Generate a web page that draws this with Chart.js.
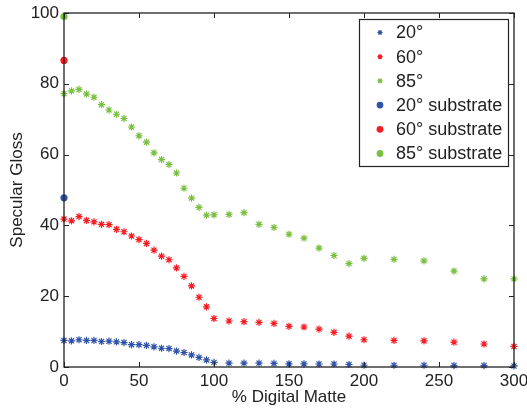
<!DOCTYPE html>
<html>
<head>
<meta charset="utf-8">
<script src="https://cdn.jsdelivr.net/npm/chart.js@4/dist/chart.umd.min.js"></script>
<style>
html,body{margin:0;padding:0;background:#fff;}
#wrap{width:527px;height:409px;position:relative;}
</style>
</head>
<body>
<div id="wrap"><canvas id="c" width="527" height="409"></canvas></div>
<script>
// % Digital Matte (x values)
const matte = [0,5,10,15,20,25,30,35,40,45,50,55,60,65,70,75,80,85,90,95,100,
               110,120,130,140,150,160,170,180,190,200,
               220,240,260,280,300];
const gloss20 = [7.5,7.4,7.7,7.5,7.5,7.2,7.3,7.1,6.9,6.3,6.3,6.1,5.7,5.3,5.2,4.5,4.1,3.4,2.7,2.0,1.3,
                 1.1,1.1,1.1,1.0,0.9,0.9,0.85,0.85,0.7,0.5,
                 0.5,0.5,0.4,0.4,0.3];
const gloss60 = [41.8,41.3,42.5,41.4,41.0,40.3,40.2,38.9,38.2,37.0,36.0,34.9,33.0,31.3,30.3,28.0,25.6,22.9,19.7,17.0,13.7,
                 13.0,12.8,12.6,12.3,11.5,11.3,10.7,9.8,8.7,7.7,
                 7.5,7.4,7.0,6.5,5.8];
const gloss85 = [77.2,78.0,78.4,77.1,76.2,74.1,72.6,71.4,70.2,67.8,65.3,63.5,60.5,58.6,57.2,54.8,50.5,47.7,45.1,42.9,43.0,
                 43.1,43.6,40.3,39.4,37.5,36.4,33.6,31.5,29.2,30.7,
                 30.4,30.0,27.1,24.9,24.9];
const substrateX = [0];
const substrate20 = [47.8];
const substrate60 = [86.6];
const substrate85 = [99.0];
const seriesLabels = ['20°','60°','85°','20° substrate','60° substrate','85° substrate'];
const xTicks = [0,50,100,150,200,250,300];
const yTicks = [0,20,40,60,80,100];
const xTitle = '% Digital Matte';
const yTitle = 'Specular Gloss';

const BLUE = 'rgb(48,82,168)', RED = 'rgb(245,28,36)', GREEN = 'rgb(122,192,64)';
const pts = (xs, ys) => xs.map((x,i)=>({x:x, y:ys[i]}));
const FONT = "'Liberation Sans', Arial, sans-serif";
const TXT = '#222';

function starSet(label, data, color){
  return {label, data, pointStyle:'star', pointRadius:3.6, pointBorderWidth:1.2,
    borderColor:color, backgroundColor:color, showLine:false, clip:false};
}
function dotSet(label, data, color){
  return {label, data, pointStyle:'circle', pointRadius:3.6, pointBorderWidth:0,
    borderColor:color, backgroundColor:color, showLine:false, clip:false};
}

const boxPlugin = {
  id:'boxPlugin',
  afterDraw(chart){
    const ctx = chart.ctx, a = chart.chartArea;
    const xs = chart.scales.x, ys = chart.scales.y;
    ctx.save();
    ctx.strokeStyle = '#222'; ctx.lineWidth = 1.3;
    ctx.strokeRect(a.left, a.top, a.right-a.left, a.bottom-a.top);
    const L = 5;
    ctx.beginPath();
    xs.ticks.forEach(t=>{
      const px = Math.round(xs.getPixelForValue(t.value))+0.5;
      ctx.moveTo(px, a.bottom); ctx.lineTo(px, a.bottom-L);
      ctx.moveTo(px, a.top); ctx.lineTo(px, a.top+L);
    });
    ys.ticks.forEach(t=>{
      const py = Math.round(ys.getPixelForValue(t.value))+0.5;
      ctx.moveTo(a.left, py); ctx.lineTo(a.left+L, py);
      ctx.moveTo(a.right, py); ctx.lineTo(a.right-L, py);
    });
    ctx.lineWidth = 1; ctx.stroke();

    // legend
    const lx = 359.5, ly = 19.5, lw = 149, lh = 147;
    ctx.fillStyle = '#fff';
    ctx.fillRect(lx, ly, lw, lh);
    ctx.strokeStyle = '#222'; ctx.lineWidth = 1.2;
    ctx.strokeRect(lx, ly, lw, lh);
    ctx.font = '18px ' + FONT;
    ctx.textBaseline = 'middle';
    ctx.textAlign = 'left';
    chart.data.datasets.forEach((ds,i)=>{
      const y = 32.5 + i*24.2;
      const isStar = ds.pointStyle === 'star';
      ctx.strokeStyle = ds.borderColor; ctx.fillStyle = ds.backgroundColor;
      Chart.helpers.drawPoint(ctx, {pointStyle: ds.pointStyle, radius: isStar?2.6:3.4, rotation:0,
        borderWidth: isStar?1:0}, 380, y);
      ctx.fillStyle = TXT;
      ctx.fillText(ds.label, 396, y+1);
    });
    ctx.restore();
  }
};

new Chart(document.getElementById('c'), {
  type:'scatter',
  data:{
    datasets:[
      starSet(seriesLabels[0], pts(matte, gloss20), BLUE),
      starSet(seriesLabels[1], pts(matte, gloss60), RED),
      starSet(seriesLabels[2], pts(matte, gloss85), GREEN),
      dotSet(seriesLabels[3], pts(substrateX, substrate20), BLUE),
      dotSet(seriesLabels[4], pts(substrateX, substrate60), RED),
      dotSet(seriesLabels[5], pts(substrateX, substrate85), GREEN)
    ]
  },
  options:{
    responsive:false, animation:false, devicePixelRatio:1,
    layout:{padding:{left:7, top:13, right:13, bottom:0}},
    plugins:{legend:{display:false}, tooltip:{enabled:false}},
    scales:{
      x:{type:'linear', min:0, max:300,
        afterBuildTicks(s){ s.ticks = xTicks.map(v=>({value:v})); },
        afterFit(s){ s.height = 42; s.paddingLeft = 0; s.paddingRight = 0; },
        grid:{display:false, drawTicks:false}, border:{display:false},
        ticks:{padding:4, color:TXT, font:{family:FONT, size:17}, maxRotation:0},
        title:{display:true, text:xTitle, color:TXT, font:{family:FONT, size:17}, padding:{top:0,bottom:1}}
      },
      y:{type:'linear', min:0, max:100,
        afterBuildTicks(s){ s.ticks = yTicks.map(v=>({value:v})); },
        afterFit(s){ s.width = 57; s.paddingTop = 0; s.paddingBottom = 0; },
        grid:{display:false, drawTicks:false}, border:{display:false},
        ticks:{padding:5, color:TXT, font:{family:FONT, size:17}},
        title:{display:true, text:yTitle, color:TXT, font:{family:FONT, size:17}, padding:0}
      }
    }
  },
  plugins:[boxPlugin]
});
</script>
</body>
</html>
